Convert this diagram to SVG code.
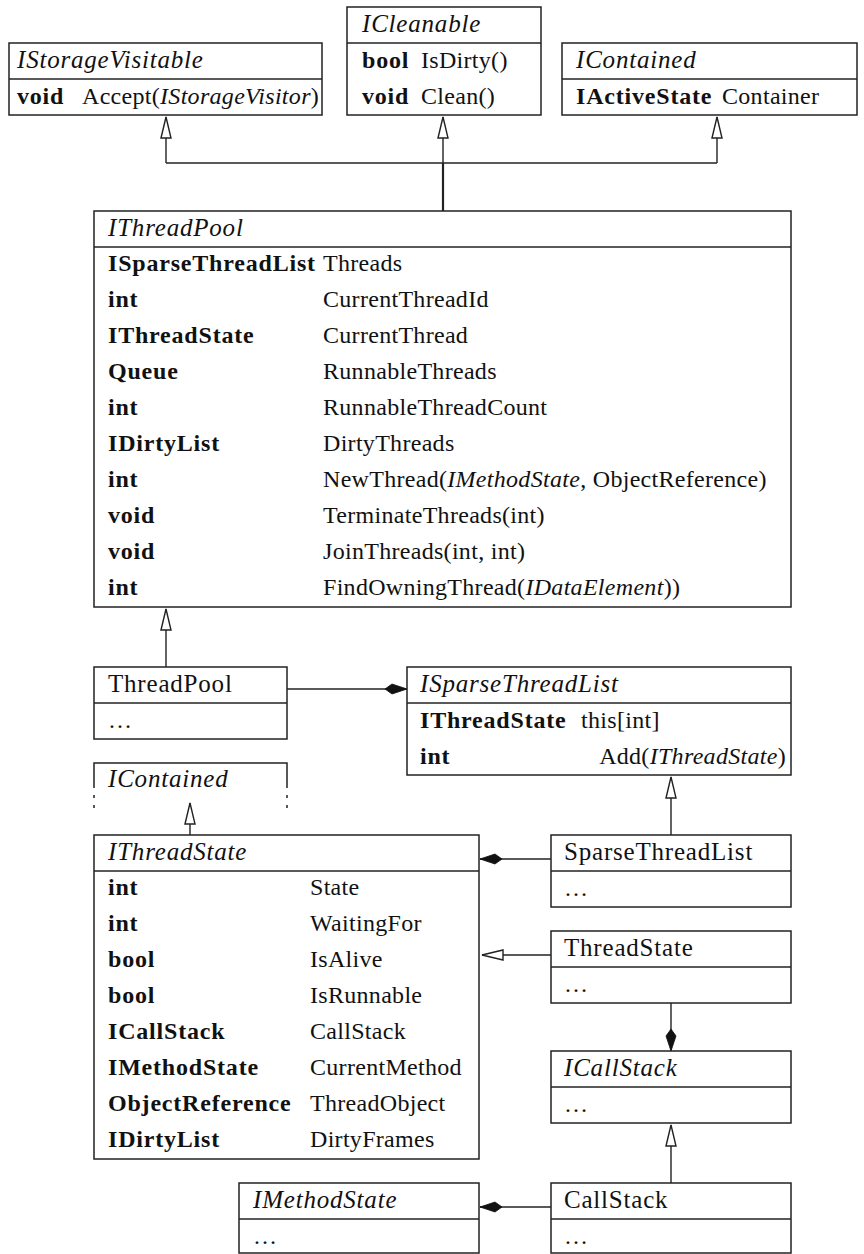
<svg xmlns="http://www.w3.org/2000/svg" width="864" height="1254" viewBox="0 0 864 1254" font-family="Liberation Serif, Times New Roman, serif">
  <style>
    .box { fill: #fff; stroke: #222; stroke-width: 1.5; }
    .sep { stroke: #222; stroke-width: 1.5; fill: none; }
    .t { font-size: 24px; letter-spacing: 0.3px; fill: #111; }
    .h { font-size: 25px; letter-spacing: 0.8px; fill: #111; }
    .b { font-weight: bold; letter-spacing: 0.8px; }
    .i { font-style: italic; }
    .link { fill: none; stroke: #222; stroke-width: 1.4; }
    .gen { marker-end: url(#hollow); }
    .comp { marker-end: url(#diamond); }
  </style>
  <defs>
    <marker id="hollow" markerUnits="userSpaceOnUse" viewBox="0 0 21 10" refX="21" refY="5" markerWidth="21" markerHeight="10" orient="auto" overflow="visible">
      <path d="M0,0 L21,5 L0,10 Z" fill="#fff" stroke="#222" stroke-width="1.4"/>
    </marker>
    <marker id="diamond" markerUnits="userSpaceOnUse" viewBox="0 0 22 10" refX="22" refY="5" markerWidth="22" markerHeight="10" orient="auto" overflow="visible">
      <path d="M0,5 L7,0 L22,5 L7,10 Z" fill="#111" stroke="#111" stroke-width="0.8"/>
    </marker>
  </defs>

  <!-- connectors -->
  <g id="connectors">
    <path class="link" d="M166 163 H717"/>
    <path class="link gen" d="M166 163 V117"/>
    <path class="link gen" d="M717 163 V117"/>
    <path class="link gen" d="M443 163 V117"/>
    <path class="link" style="stroke-width:2.2" d="M443 211 V163"/>
    <path class="link gen" d="M166 667 V609"/>
    <path class="link comp" d="M287 689 H407"/>
    <path class="link gen" d="M671 835 V777"/>
    <path class="link gen" d="M190 835 V803"/>
    <path class="link comp" d="M551 859 H480"/>
    <path class="link gen" d="M551 955 H482"/>
    <path class="link comp" d="M671 1003 V1051"/>
    <path class="link gen" d="M671 1183 V1125"/>
    <path class="link comp" d="M551 1207 H480"/>
  </g>

  <g id="IStorageVisitable">
    <rect class="box" x="9" y="43" width="313" height="72"/>
    <line class="sep" x1="9" y1="79" x2="322" y2="79"/>
    <text class="h i" x="17" y="68">IStorageVisitable</text>
    <text class="t" x="17" y="104"><tspan class="b">void</tspan><tspan x="82">Accept(</tspan><tspan class="i">IStorageVisitor</tspan>)</text>
  </g>

  <g id="ICleanable">
    <rect class="box" x="347" y="7" width="194" height="108"/>
    <line class="sep" x1="347" y1="43" x2="541" y2="43"/>
    <text class="h i" x="362" y="32">ICleanable</text>
    <text class="t" x="362" y="68"><tspan class="b">bool</tspan><tspan x="421">IsDirty()</tspan></text>
    <text class="t" x="362" y="104"><tspan class="b">void</tspan><tspan x="421">Clean()</tspan></text>
  </g>

  <g id="IContained">
    <rect class="box" x="562" y="43" width="295" height="72"/>
    <line class="sep" x1="562" y1="79" x2="857" y2="79"/>
    <text class="h i" x="576" y="68">IContained</text>
    <text class="t" x="576" y="104"><tspan class="b">IActiveState</tspan><tspan x="722">Container</tspan></text>
  </g>

  <g id="IThreadPool">
    <rect class="box" x="94" y="211" width="697" height="396"/>
    <line class="sep" x1="94" y1="247" x2="791" y2="247"/>
    <text class="h i" x="108" y="236">IThreadPool</text>
    <g class="t">
      <text class="b" x="108" y="271">ISparseThreadList</text><text x="323" y="271">Threads</text>
      <text class="b" x="108" y="307">int</text><text x="323" y="307">CurrentThreadId</text>
      <text class="b" x="108" y="343">IThreadState</text><text x="323" y="343">CurrentThread</text>
      <text class="b" x="108" y="379">Queue</text><text x="323" y="379">RunnableThreads</text>
      <text class="b" x="108" y="415">int</text><text x="323" y="415">RunnableThreadCount</text>
      <text class="b" x="108" y="451">IDirtyList</text><text x="323" y="451">DirtyThreads</text>
      <text class="b" x="108" y="487">int</text><text x="323" y="487">NewThread(<tspan class="i">IMethodState</tspan>, ObjectReference)</text>
      <text class="b" x="108" y="523">void</text><text x="323" y="523">TerminateThreads(int)</text>
      <text class="b" x="108" y="559">void</text><text x="323" y="559">JoinThreads(int, int)</text>
      <text class="b" x="108" y="595">int</text><text x="323" y="595">FindOwningThread(<tspan class="i">IDataElement</tspan>))</text>
    </g>
  </g>

  <g id="ThreadPool">
    <rect class="box" x="94" y="667" width="193" height="72"/>
    <line class="sep" x1="94" y1="703" x2="287" y2="703"/>
    <text class="h" x="108" y="692">ThreadPool</text>
    <text class="t" x="108" y="728">…</text>
  </g>

  <g id="ISparseThreadList">
    <rect class="box" x="407" y="667" width="384" height="108"/>
    <line class="sep" x1="407" y1="703" x2="791" y2="703"/>
    <text class="h i" x="420" y="692">ISparseThreadList</text>
    <text class="t" x="420" y="728"><tspan class="b">IThreadState</tspan><tspan x="581">this[int]</tspan></text>
    <text class="t b" x="420" y="764">int</text>
    <text class="t" x="786" y="764" text-anchor="end">Add(<tspan class="i">IThreadState</tspan>)</text>
  </g>

  <g id="IContained-ref">
    <path class="sep" d="M94 788 V763 H287 V788"/>
    <path class="sep" d="M94 795 v3 M94 805 v3 M287 795 v3 M287 805 v3"/>
    <text class="h i" x="108" y="787">IContained</text>
  </g>

  <g id="IThreadState">
    <rect class="box" x="94" y="835" width="385" height="324"/>
    <line class="sep" x1="94" y1="871" x2="479" y2="871"/>
    <text class="h i" x="108" y="860">IThreadState</text>
    <g class="t">
      <text class="b" x="108" y="895">int</text><text x="310" y="895">State</text>
      <text class="b" x="108" y="931">int</text><text x="310" y="931">WaitingFor</text>
      <text class="b" x="108" y="967">bool</text><text x="310" y="967">IsAlive</text>
      <text class="b" x="108" y="1003">bool</text><text x="310" y="1003">IsRunnable</text>
      <text class="b" x="108" y="1039">ICallStack</text><text x="310" y="1039">CallStack</text>
      <text class="b" x="108" y="1075">IMethodState</text><text x="310" y="1075">CurrentMethod</text>
      <text class="b" x="108" y="1111">ObjectReference</text><text x="310" y="1111">ThreadObject</text>
      <text class="b" x="108" y="1147">IDirtyList</text><text x="310" y="1147">DirtyFrames</text>
    </g>
  </g>

  <g id="SparseThreadList">
    <rect class="box" x="551" y="835" width="240" height="72"/>
    <line class="sep" x1="551" y1="871" x2="791" y2="871"/>
    <text class="h" x="564" y="860">SparseThreadList</text>
    <text class="t" x="564" y="896">…</text>
  </g>

  <g id="ThreadState">
    <rect class="box" x="551" y="931" width="240" height="72"/>
    <line class="sep" x1="551" y1="967" x2="791" y2="967"/>
    <text class="h" x="564" y="956">ThreadState</text>
    <text class="t" x="564" y="992">…</text>
  </g>

  <g id="ICallStack">
    <rect class="box" x="551" y="1051" width="240" height="72"/>
    <line class="sep" x1="551" y1="1087" x2="791" y2="1087"/>
    <text class="h i" x="564" y="1076">ICallStack</text>
    <text class="t" x="564" y="1112">…</text>
  </g>

  <g id="CallStack">
    <rect class="box" x="551" y="1183" width="240" height="70"/>
    <line class="sep" x1="551" y1="1219" x2="791" y2="1219"/>
    <text class="h" x="564" y="1208">CallStack</text>
    <text class="t" x="564" y="1244">…</text>
  </g>

  <g id="IMethodState">
    <rect class="box" x="239" y="1183" width="240" height="70"/>
    <line class="sep" x1="239" y1="1219" x2="479" y2="1219"/>
    <text class="h i" x="253" y="1208">IMethodState</text>
    <text class="t" x="253" y="1244">…</text>
  </g>
</svg>
